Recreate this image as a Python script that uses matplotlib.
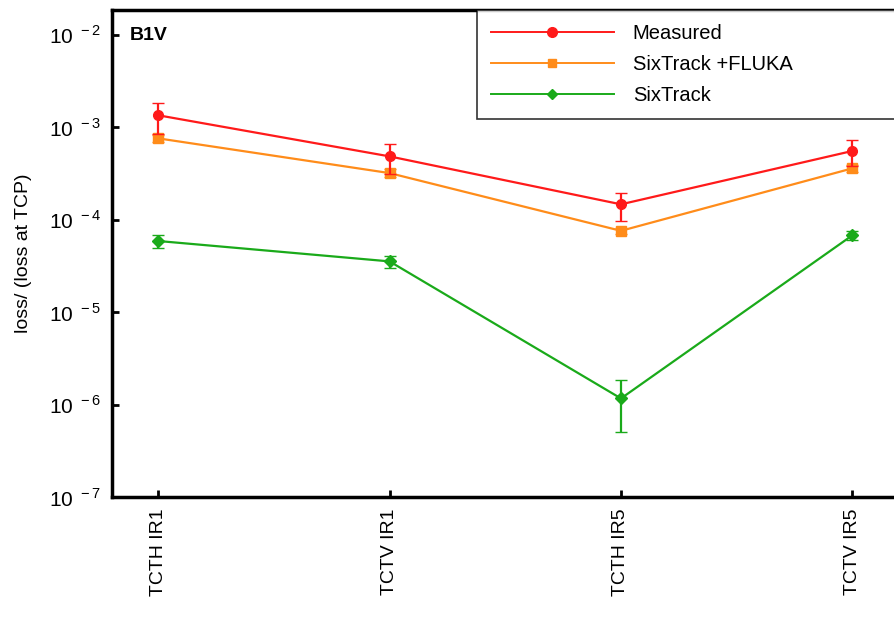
import matplotlib
matplotlib.use("Agg")
import matplotlib.pyplot as plt
from matplotlib.lines import Line2D

plt.rcParams['font.family'] = ['Liberation Sans', 'DejaVu Sans']
plt.rcParams['mathtext.fontset'] = 'custom'
plt.rcParams['mathtext.rm'] = 'Liberation Sans'

# collimators
labels = ["TCTH IR1", "TCTV IR1", "TCTH IR5", "TCTV IR5"]
pos = [0, 1, 2, 3]

measured = [1.35e-3, 4.85e-4, 1.47e-4, 5.55e-4]
measured_err = [0.5e-3, 1.7e-4, 0.5e-4, 1.75e-4]

fluka = [7.6e-4, 3.2e-4, 7.6e-5, 3.6e-4]
fluka_err = [0.6e-4, 0.3e-4, 0.6e-5, 0.3e-4]

sixtrack = [5.9e-5, 3.55e-5, 1.17e-6, 6.8e-5]
sixtrack_err = [0.9e-5, 0.55e-5, 0.66e-6, 0.8e-5]

c_meas, c_fluka, c_six = '#ff1a1a', '#ff8c1a', '#1aaa1a'

fig = plt.figure(figsize=(8.95, 6.2), dpi=100)
ax = fig.add_axes([0.125, 0.198, 0.892, 0.786])

ax.errorbar(pos, measured, yerr=measured_err, color=c_meas, marker='o', ms=7,
            lw=1.6, capsize=4, zorder=5)
ax.errorbar(pos, fluka, yerr=fluka_err, color=c_fluka, marker='s', ms=7,
            lw=1.6, capsize=4, zorder=4)
ax.errorbar(pos, sixtrack, yerr=sixtrack_err, color=c_six, marker='D', ms=6,
            lw=1.6, capsize=4, zorder=3)

ax.set_yscale('log')
ax.set_ylim(1e-7, 1.86e-2)
ax.set_xlim(-0.2, 3.25)
ax.set_xticks(pos)
ax.set_xticklabels(labels, rotation=90, fontsize=14)
ax.set_yticks([1e-7, 1e-6, 1e-5, 1e-4, 1e-3, 1e-2])
ax.set_yticklabels([r'$10^{\ -%d}$' % k for k in [7, 6, 5, 4, 3, 2]], fontsize=15)
ax.minorticks_off()
ax.tick_params(direction='in', length=5, width=2)
ax.tick_params(axis='y', pad=8)
ax.tick_params(axis='x', pad=8)
for s in ax.spines.values():
    s.set_linewidth(2.5)

ax.set_ylabel('loss/ (loss at TCP)', fontsize=14, labelpad=12)
ax.text(0.022, 0.965, 'B1V', transform=ax.transAxes, fontsize=14,
        fontweight='bold', va='top', ha='left')

handles = [
    Line2D([], [], color=c_meas, marker='o', ms=7, lw=1.4),
    Line2D([], [], color=c_fluka, marker='s', ms=6, lw=1.4),
    Line2D([], [], color=c_six, marker='D', ms=5, lw=1.4),
]
leg = ax.legend(handles, ['Measured', 'SixTrack +FLUKA', 'SixTrack'],
                loc='upper left', bbox_to_anchor=(0.457, 0.0, 0.56, 1.0),
                mode='expand', fontsize=14.5,
                handlelength=6.1, frameon=True, fancybox=False,
                borderpad=0.7, labelspacing=0.6, handletextpad=0.95,
                borderaxespad=0)
leg.get_frame().set_edgecolor('black')
leg.get_frame().set_linewidth(1.2)

fig.savefig('out.png', dpi=100)
